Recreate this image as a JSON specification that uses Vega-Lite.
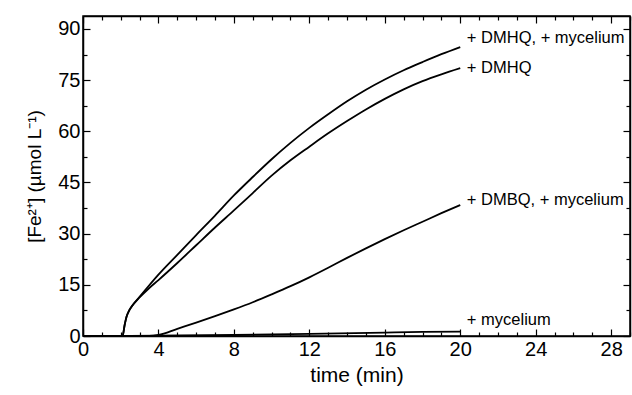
{
  "$schema": "https://vega.github.io/schema/vega-lite/v6.json",
  "width": 547,
  "height": 320,
  "autosize": {"type": "none"},
  "padding": {"left": 83, "top": 16, "right": 2, "bottom": 59},
  "background": "white",
  "config": {
    "view": {"stroke": "black", "strokeWidth": 1.5},
    "font": "Liberation Sans",
    "axis": {
      "domainColor": "black", "tickColor": "black", "labelColor": "black", "titleColor": "black",
      "grid": false, "labelFont": "Liberation Sans", "titleFont": "Liberation Sans",
      "labelFontSize": 20, "titleFontSize": 19, "titleFontWeight": "normal",
      "domainWidth": 1.5, "tickWidth": 1.2
    }
  },
  "datasets": {
    "curves": [
      {"series": "A", "t": 0, "c": 0}, {"series": "A", "t": 2.1, "c": 0}, {"series": "A", "t": 2.2, "c": 3},
      {"series": "A", "t": 2.3, "c": 5.5}, {"series": "A", "t": 2.45, "c": 7.5}, {"series": "A", "t": 2.6, "c": 8.8},
      {"series": "A", "t": 3.0, "c": 11.5}, {"series": "A", "t": 3.5, "c": 14.8}, {"series": "A", "t": 4, "c": 18},
      {"series": "A", "t": 5, "c": 23.8}, {"series": "A", "t": 6, "c": 29.6}, {"series": "A", "t": 7, "c": 35.3},
      {"series": "A", "t": 8, "c": 41.2}, {"series": "A", "t": 9, "c": 46.6}, {"series": "A", "t": 10, "c": 51.8},
      {"series": "A", "t": 11, "c": 56.6}, {"series": "A", "t": 12, "c": 61}, {"series": "A", "t": 13, "c": 65},
      {"series": "A", "t": 14, "c": 68.8}, {"series": "A", "t": 15, "c": 72.2}, {"series": "A", "t": 16, "c": 75.2},
      {"series": "A", "t": 17, "c": 77.9}, {"series": "A", "t": 18, "c": 80.3}, {"series": "A", "t": 19, "c": 82.6},
      {"series": "A", "t": 20, "c": 84.7},
      {"series": "B", "t": 0, "c": 0}, {"series": "B", "t": 2.1, "c": 0}, {"series": "B", "t": 2.2, "c": 3},
      {"series": "B", "t": 2.3, "c": 5.5}, {"series": "B", "t": 2.45, "c": 7.5}, {"series": "B", "t": 2.6, "c": 8.8},
      {"series": "B", "t": 3.0, "c": 11.3}, {"series": "B", "t": 3.5, "c": 14.0}, {"series": "B", "t": 4, "c": 16.4},
      {"series": "B", "t": 5, "c": 21.4}, {"series": "B", "t": 6, "c": 26.6}, {"series": "B", "t": 7, "c": 31.8},
      {"series": "B", "t": 8, "c": 36.8}, {"series": "B", "t": 9, "c": 41.9}, {"series": "B", "t": 10, "c": 47},
      {"series": "B", "t": 11, "c": 51.5}, {"series": "B", "t": 12, "c": 55.5}, {"series": "B", "t": 13, "c": 59.4},
      {"series": "B", "t": 14, "c": 63}, {"series": "B", "t": 15, "c": 66.4}, {"series": "B", "t": 16, "c": 69.5},
      {"series": "B", "t": 17, "c": 72.3}, {"series": "B", "t": 18, "c": 74.7}, {"series": "B", "t": 19, "c": 76.7},
      {"series": "B", "t": 20, "c": 78.5},
      {"series": "C", "t": 0, "c": 0}, {"series": "C", "t": 3.5, "c": 0}, {"series": "C", "t": 4, "c": 0.3},
      {"series": "C", "t": 5, "c": 2.1}, {"series": "C", "t": 6, "c": 3.9}, {"series": "C", "t": 7, "c": 5.8},
      {"series": "C", "t": 8, "c": 7.8}, {"series": "C", "t": 9, "c": 9.9}, {"series": "C", "t": 10, "c": 12.2},
      {"series": "C", "t": 11, "c": 14.6}, {"series": "C", "t": 12, "c": 17.2}, {"series": "C", "t": 13, "c": 20},
      {"series": "C", "t": 14, "c": 22.9}, {"series": "C", "t": 15, "c": 25.7}, {"series": "C", "t": 16, "c": 28.4},
      {"series": "C", "t": 17, "c": 31}, {"series": "C", "t": 18, "c": 33.5}, {"series": "C", "t": 19, "c": 36},
      {"series": "C", "t": 20, "c": 38.4},
      {"series": "D", "t": 0, "c": 0}, {"series": "D", "t": 4, "c": 0.1}, {"series": "D", "t": 8, "c": 0.3},
      {"series": "D", "t": 12, "c": 0.6}, {"series": "D", "t": 16, "c": 1.0}, {"series": "D", "t": 18, "c": 1.2},
      {"series": "D", "t": 20, "c": 1.3}
    ],
    "labels": [
      {"x": 20.35, "y": 87.4, "label": "+ DMHQ, + mycelium"},
      {"x": 20.35, "y": 78.6, "label": "+ DMHQ"},
      {"x": 20.35, "y": 40, "label": "+ DMBQ, + mycelium"},
      {"x": 20.35, "y": 4.7, "label": "+ mycelium"}
    ]
  },
  "layer": [
    {
      "data": {"name": "curves"},
      "mark": {"type": "line", "color": "black", "strokeWidth": 1.8, "interpolate": "monotone"},
      "encoding": {
        "x": {
          "field": "t", "type": "quantitative",
          "scale": {"domain": [0, 29], "nice": false, "zero": false},
          "axis": {
            "orient": "bottom", "title": "time (min)", "titleFontSize": 21,
            "values": [0,1,2,3,4,5,6,7,8,9,10,11,12,13,14,15,16,17,18,19,20,21,22,23,24,25,26,27,28,29],
            "labelExpr": "datum.value % 4 === 0 ? datum.label : ''",
            "tickSize": {"condition": {"test": "datum.value % 4 === 0", "value": -7}, "value": -4},
            "labelPadding": 10, "titlePadding": 5, "labelFlush": false
          }
        },
        "y": {
          "field": "c", "type": "quantitative",
          "scale": {"domain": [0, 93.8], "nice": false},
          "axis": {
            "orient": "left", "title": "[Fe²⁺] (µmol L⁻¹)",
            "values": [0, 7.5, 15, 22.5, 30, 37.5, 45, 52.5, 60, 67.5, 75, 82.5, 90],
            "labelExpr": "datum.value % 15 === 0 ? datum.label : ''",
            "tickSize": {"condition": {"test": "datum.value % 15 === 0", "value": -7}, "value": -4},
            "labelPadding": 10, "titlePadding": 13, "labelFlush": false
          }
        },
        "detail": {"field": "series"}
      }
    },
    {
      "data": {"name": "labels"},
      "mark": {"type": "text", "align": "left", "baseline": "middle", "fontSize": 16.5, "font": "Liberation Sans", "color": "black"},
      "encoding": {
        "x": {
          "field": "x", "type": "quantitative",
          "axis": {
            "orient": "top", "title": null, "labels": false,
            "values": [0,1,2,3,4,5,6,7,8,9,10,11,12,13,14,15,16,17,18,19,20,21,22,23,24,25,26,27,28,29],
            "tickSize": {"condition": {"test": "datum.value % 4 === 0", "value": -7}, "value": -4}
          }
        },
        "y": {
          "field": "y", "type": "quantitative",
          "axis": {
            "orient": "right", "title": null, "labels": false,
            "values": [0, 7.5, 15, 22.5, 30, 37.5, 45, 52.5, 60, 67.5, 75, 82.5, 90],
            "tickSize": {"condition": {"test": "datum.value % 15 === 0", "value": -7}, "value": -4}
          }
        },
        "text": {"field": "label"}
      }
    }
  ],
  "resolve": {"axis": {"x": "independent", "y": "independent"}}
}
